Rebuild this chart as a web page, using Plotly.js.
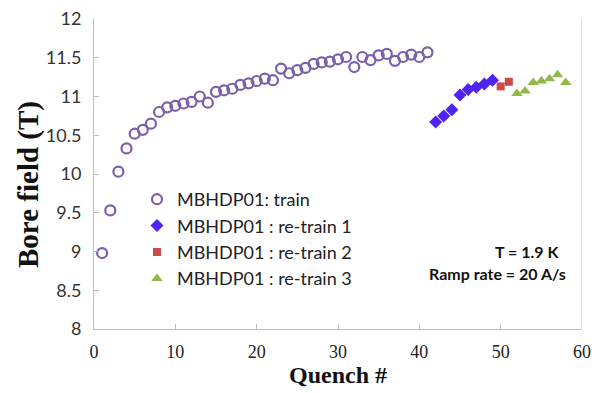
<!DOCTYPE html>
<html>
<head>
<meta charset="utf-8">
<script src="https://cdn.plot.ly/plotly-3.0.1.min.js"></script>
<style>html,body{margin:0;padding:0;background:#fff;}#chart{width:604px;height:393px;}</style>
</head>
<body>
<div id="chart"></div>
<script>
// Data
const trainQ = [1,2,3,4,5,6,7,8,9,10,11,12,13,14,15,16,17,18,19,20,21,22,23,24,25,26,27,28,29,30,31,32,33,34,35,36,37,38,39,40,41];
const trainB = [8.98,9.53,10.03,10.33,10.52,10.57,10.65,10.8,10.86,10.88,10.91,10.93,11.0,10.92,11.06,11.08,11.1,11.15,11.17,11.2,11.23,11.21,11.36,11.3,11.34,11.37,11.42,11.44,11.45,11.48,11.51,11.38,11.51,11.47,11.53,11.55,11.46,11.51,11.54,11.51,11.57];
const re1Q = [42,43,44,45,46,47,48,49];
const re1B = [10.67,10.75,10.83,11.02,11.09,11.12,11.16,11.21];
const re2Q = [50,51];
const re2B = [11.13,11.19];
const re3Q = [52,53,54,55,56,57,58];
const re3B = [11.04,11.07,11.18,11.2,11.23,11.28,11.18];
const seriesNames = ["MBHDP01: train","MBHDP01 : re-train 1","MBHDP01 : re-train 2","MBHDP01 : re-train 3"];
const xTicks = [0,10,20,30,40,50,60];
const yTicks = [8,8.5,9,9.5,10,10.5,11,11.5,12];
const xTitle = "Quench #";
const yTitle = "Bore field (T)";

const sans = "Lato, 'Open Sans', sans-serif";
const serif = "'Liberation Serif', 'Times New Roman', serif";
const legFont = {family:sans, size:18, color:"#222"};
const traces = [
  {x:trainQ, y:trainB, name:seriesNames[0], mode:"markers", type:"scatter",
   marker:{symbol:"circle-open", size:10, color:"#7b5fa8", line:{width:2.2, color:"#7b5fa8"}}},
  {x:re1Q, y:re1B, name:seriesNames[1], mode:"markers", type:"scatter",
   marker:{symbol:"diamond", size:10, color:"#4f22f5"}},
  {x:re2Q, y:re2B, name:seriesNames[2], mode:"markers", type:"scatter",
   marker:{symbol:"square", size:8, color:"#c94a48"}},
  {x:re3Q, y:re3B, name:seriesNames[3], mode:"markers", type:"scatter",
   marker:{symbol:"triangle-up", size:10, color:"#92b84a"}}
];

const layout = {
  width:604, height:393,
  margin:{l:94, r:22, t:19, b:64},
  paper_bgcolor:"#fff", plot_bgcolor:"#fff",
  showlegend:true,
  legend:{x:(137-94)/488, y:1-(181-19)/310, xanchor:"left", yanchor:"top", font:legFont, bgcolor:"rgba(0,0,0,0)", itemwidth:30, tracegroupgap:0},
  xaxis:{range:[0,60], tickvals:xTicks, ticktext:xTicks.map(String), showgrid:false, zeroline:false,
    showline:true, linecolor:"#bdbdbd", linewidth:1, ticks:"inside", ticklen:5, tickcolor:"#bdbdbd",
    ticklabelstandoff:6,
    tickfont:{family:serif, size:18, color:"#222"},
    title:{text:"<b>" + xTitle + "</b>", font:{family:serif, size:24, color:"#111"}, standoff:2}},
  yaxis:{range:[8,12], tickvals:yTicks, ticktext:yTicks.map(String), showgrid:false, zeroline:false,
    showline:true, linecolor:"#bdbdbd", linewidth:1, ticks:"inside", ticklen:5, tickcolor:"#bdbdbd",
    ticklabelstandoff:8,
    tickfont:{family:sans, size:18, color:"#333"}},
  shapes:[{type:"line", xref:"x", yref:"paper", x0:60, x1:60, y0:0, y1:1, line:{color:"#bdbdbd", width:1}}],
  annotations:[
    {xref:"paper", yref:"paper", x:(28-94)/488, y:1-(185-19)/310, text:"<b>" + yTitle + "</b>", textangle:-90, showarrow:false,
     font:{family:serif, size:29, color:"#111"}, xanchor:"center", yanchor:"middle"},
    {xref:"paper", yref:"paper", x:(527-94)/488, y:1-(251-19)/310, text:"<b>T = 1.9 K</b>", showarrow:false,
     font:{family:sans, size:16, color:"#111"}, xanchor:"center", yanchor:"middle"},
    {xref:"paper", yref:"paper", x:(497-94)/488, y:1-(273-19)/310, text:"<b>Ramp rate = 20 A/s</b>", showarrow:false,
     font:{family:sans, size:16, color:"#111"}, xanchor:"center", yanchor:"middle"}
  ]
};
Plotly.newPlot("chart", traces, layout, {displayModeBar:false, staticPlot:true});
</script>
</body>
</html>
